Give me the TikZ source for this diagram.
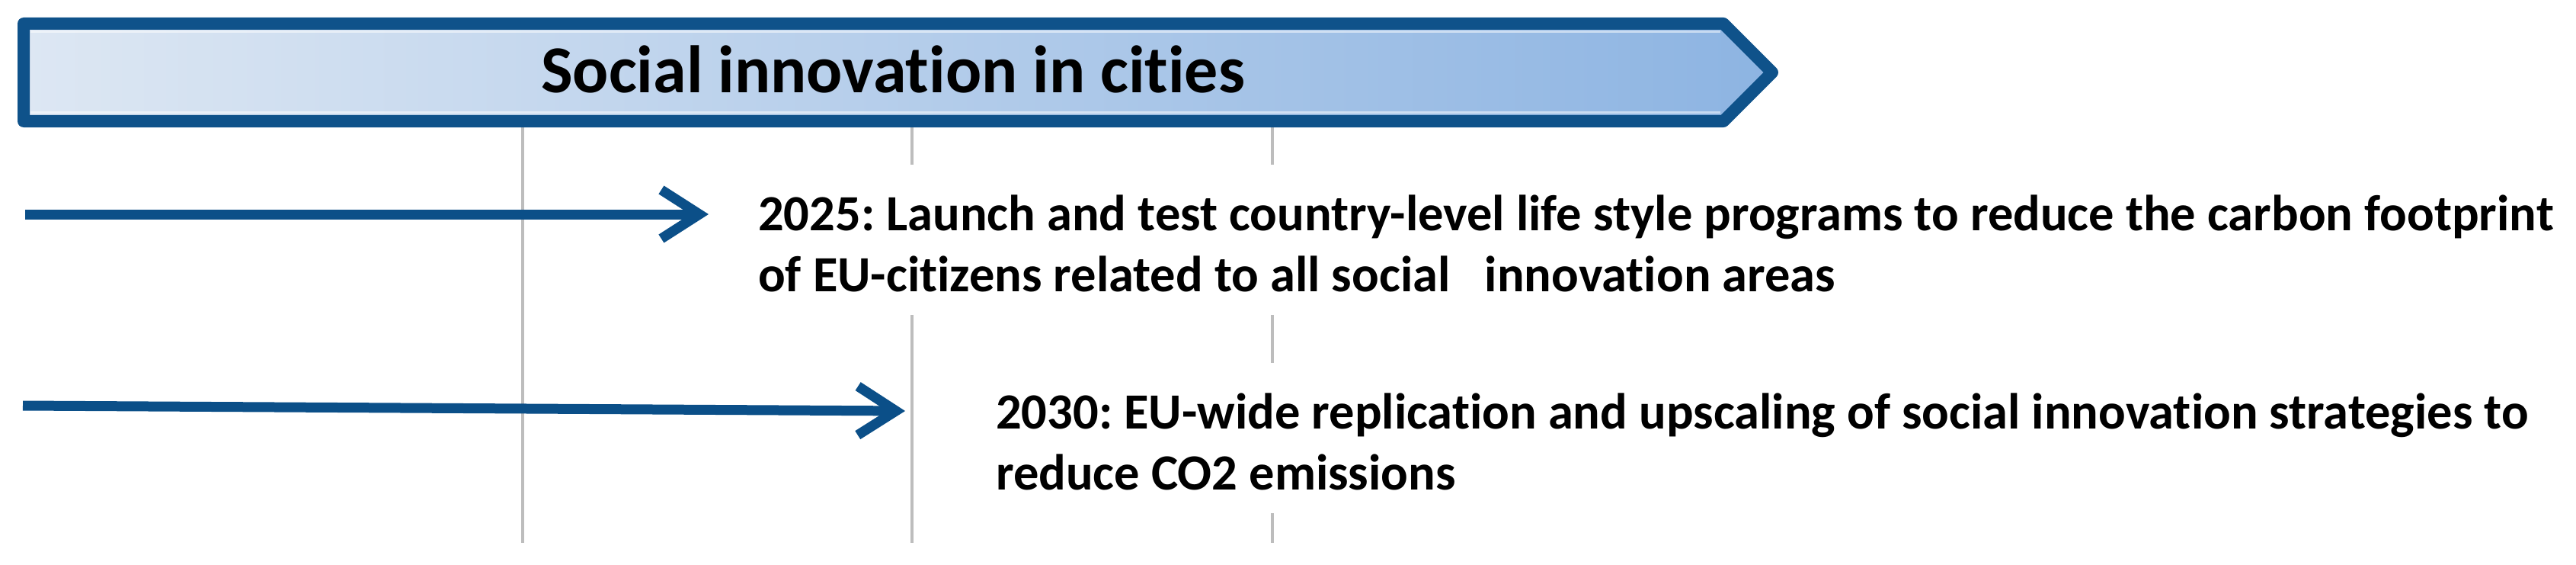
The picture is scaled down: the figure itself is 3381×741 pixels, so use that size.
\documentclass[tikz,border=0pt]{standalone}
\usepackage{fontspec}
\setmainfont{Carlito}[Ligatures=NoCommon]
\usetikzlibrary{arrows.meta}
\definecolor{bdr}{HTML}{0F528A}
\definecolor{arrc}{HTML}{0B4F88}
\definecolor{vline}{HTML}{BDBDBD}
\definecolor{fillL}{HTML}{DDE7F3}
\definecolor{fillR}{HTML}{8DB4E2}
\frenchspacing
\begin{document}
\begin{tikzpicture}[x=1pt,y=-1pt,
  banner/.style={draw=bdr, line width=16pt, line join=round, left color=fillL, right color=fillR},
  hl/.style={draw=white, draw opacity=0.5, line width=3pt},
  ttl/.style={anchor=base west, inner sep=0pt, font=\fontsize{88}{100}\selectfont\bfseries},
  txt/.style={anchor=north west, align=left, fill=white, inner xsep=8pt, inner ysep=30pt,
              font=\fontsize{66.5}{80}\selectfont\bfseries},
  grid/.style={draw=vline, line width=4pt},
  arr/.style={draw=arrc, line width=13pt, -{Straight Barb[length=50pt,width=64pt]}}]
\useasboundingbox (0,0) rectangle (3381,741);
% vertical timeline lines
\coordinate (v1t) at (686,160); \coordinate (v1b) at (686,712);
\coordinate (v2t) at (1197,160); \coordinate (v2b) at (1197,712);
\coordinate (v3t) at (1670,160); \coordinate (v3b) at (1670,712);
\draw[grid] (v1t) -- (v1b);
\draw[grid] (v2t) -- (v2b);
\draw[grid] (v3t) -- (v3b);
% banner
\path[banner] (31,31) -- (2262,31) -- (2326,95) -- (2262,159) -- (31,159) -- cycle;
\draw[hl] (40,42) -- (2258,42);
\draw[hl] (40,148) -- (2258,148);
\node[ttl] (title) at (710,122) {Social innovation in cities};
% arrows
\coordinate (a1s) at (33,281); \coordinate (a1e) at (930,281);
\coordinate (a2s) at (30,532); \coordinate (a2e) at (1188,539);
\draw[arr] (a1s) -- (a1e);
\draw[arr] (a2s) -- (a2e);
% texts
\node[txt] (t1) at (987,216) {\strut 2025: Launch and test country-level life style programs to reduce the carbon footprint\\
of EU-citizens related to all social\ \ \ innovation areas};
\node[txt] (t2) at (1299,476) {\strut 2030: EU-wide replication and upscaling of social innovation strategies to\\
reduce CO2 emissions};
\end{tikzpicture}
\end{document}
